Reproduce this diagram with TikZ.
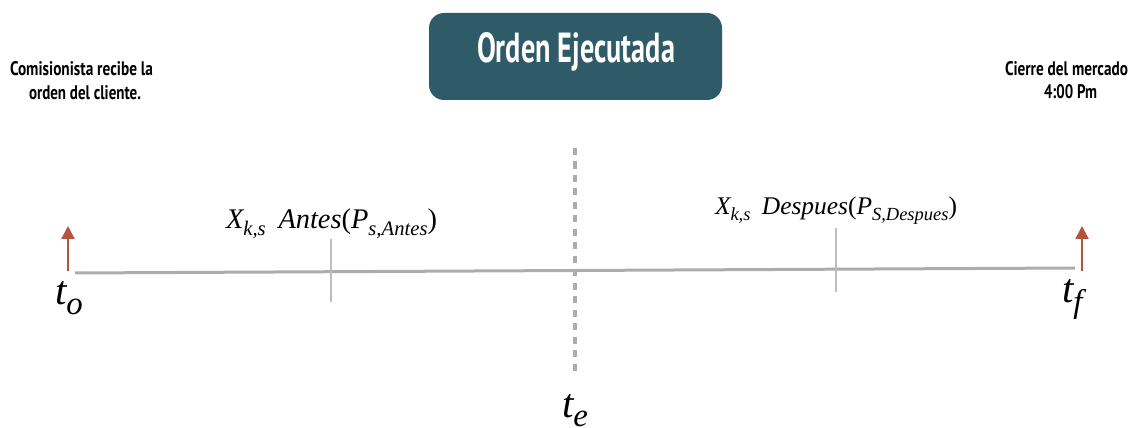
\documentclass[tikz,border=0pt]{standalone}
\usepackage{fontspec}
\usepackage{graphicx}
\usetikzlibrary{arrows.meta}
\setmainfont{Liberation Serif}
\newfontfamily\dinfont{PT Sans}
\newlength{\px}
\setlength{\px}{0.03cm}
\newcommand{\fittxt}[3]{\resizebox{#1\px}{#2\px}{\dinfont\bfseries #3}}
\newcommand{\lsub}[1]{\raisebox{-5pt}{\fontsize{16pt}{18pt}\selectfont #1}}
\newcommand{\tsub}[1]{\raisebox{-8.5pt}{\fontsize{28pt}{30pt}\selectfont #1}}
\definecolor{boxcol}{RGB}{47,90,103}
\definecolor{arrcol}{RGB}{180,83,63}
\definecolor{linecol}{RGB}{172,172,172}
\definecolor{tickcol}{RGB}{190,190,190}
\tikzset{
  txt/.style={inner sep=0pt, outer sep=0pt, anchor=base west},
  timeline/.style={draw=linecol, line width=3\px},
  tickline/.style={draw=tickcol, line width=1.2\px},
  dashline/.style={draw=linecol, line width=3.5\px, dash pattern=on 6pt off 5.5pt},
  uparrow/.style={draw=arrcol, line width=2.2\px, -{Triangle[length=11pt,width=11pt]}},
  tlabel/.style={txt, font=\fontsize{35pt}{37pt}\selectfont\itshape}
}
\begin{document}
\begin{tikzpicture}[x=0.03cm,y=-0.03cm]
\useasboundingbox (0,0) rectangle (1134,428);
% header box
\node[fill=boxcol, rounded corners=15\px, minimum width=293\px, minimum height=87\px, inner sep=0pt] (box) at (575.5,56.5) {};
\node[txt, text=white] (boxtxt) at (477,63) {\fittxt{198}{30}{Orden Ejecutada}};
% left / right captions
\node[txt] (l1) at (10,76) {\fittxt{143}{14}{Comisionista recibe la}};
\node[txt] (l2) at (29,100) {\fittxt{112}{14}{orden del cliente.}};
\node[txt] (r1) at (1005,76) {\fittxt{123}{14}{Cierre del mercado}};
\node[txt] (r2) at (1044,99) {\fittxt{53}{14}{4:00 Pm}};
% timeline
\coordinate (ls) at (75,273);
\coordinate (le) at (1075,268);
\draw[timeline] (ls) -- (le);
% ticks
\coordinate (ta1) at (331,239);
\coordinate (ta2) at (331,302);
\coordinate (tb1) at (836,228);
\coordinate (tb2) at (836,292);
\draw[tickline] (ta1) -- (ta2);
\draw[tickline] (tb1) -- (tb2);
% dashed vertical
\coordinate (d1) at (575,148);
\coordinate (d2) at (575,372);
\draw[dashline] (d1) -- (d2);
% red arrows
\coordinate (a1) at (68,271);
\coordinate (a1t) at (68,226);
\coordinate (a2) at (1082,271);
\coordinate (a2t) at (1082,226);
\draw[uparrow] (a1) -- (a1t);
\draw[uparrow] (a2) -- (a2t);
% labels
\node[txt] (antes) at (226,229) {\resizebox{211\px}{!}{\fontsize{22pt}{24pt}\selectfont\itshape X\lsub{k,s}\hspace{0.45em}Antes\textup{(}P\lsub{s,Antes}\textup{)}}};
\node[txt] (despues) at (715,215) {\resizebox{242\px}{!}{\fontsize{22pt}{24pt}\selectfont\itshape X\lsub{k,s}\hspace{0.45em}Despues\textup{(}P\lsub{S,Despues}\textup{)}}};
\node[tlabel] (to) at (55,305) {t\tsub{o}};
\node[tlabel] (tf) at (1062,303) {t\tsub{f}};
\node[tlabel] (te) at (562,417) {t\tsub{e}};
\end{tikzpicture}
\end{document}
